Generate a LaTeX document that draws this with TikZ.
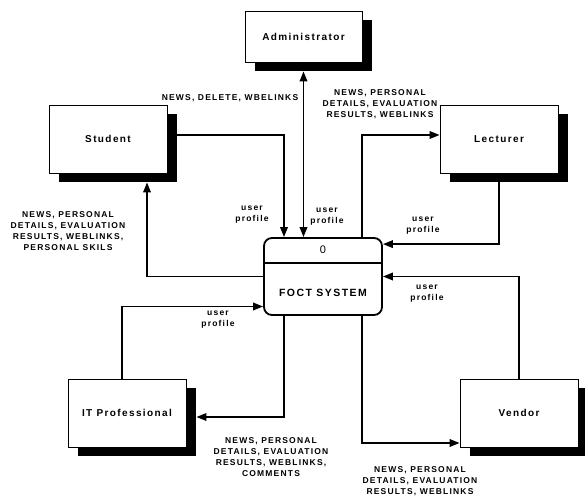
\documentclass[tikz,border=0pt]{standalone}
\usepackage{fontspec}
\setmainfont{Liberation Sans}
\newfontfamily\dfdfont[LetterSpace=14]{Liberation Sans}
\usetikzlibrary{arrows.meta,shadows}

\begin{document}
\begin{tikzpicture}[x=1pt,y=-1pt,
  entity/.style={draw, line width=0.8pt, fill=white, minimum width=118pt, minimum height=68pt,
    font=\dfdfont\bfseries\fontsize{10}{12}\selectfont,
    drop shadow={shadow xshift=10pt, shadow yshift=-9pt, fill=black, opacity=1}},
  process/.style={draw, line width=1.8pt, rounded corners=8pt, fill=white, minimum width=118pt, minimum height=77pt},
  flow/.style={line width=1.8pt, -{Triangle[length=10pt,width=7.5pt]}},
  flowlabel/.style={align=center, font=\dfdfont\bfseries\fontsize{8.5}{11}\selectfont}]
  \useasboundingbox (0,0) rectangle (585,500);

  % --------------------
  % External entities
  % --------------------
  \node[entity, minimum width=117pt, minimum height=51pt] (admin) at (303.5,36.5) {Administrator};
  \node[entity] (student) at (108,139) {Student};
  \node[entity] (lecturer) at (499,139) {Lecturer};
  \node[entity] (itpro) at (127,413) {IT Professional};
  \node[entity] (vendor) at (519,413) {Vendor};

  % --------------------
  % Process box
  % --------------------
  \node[process] (foct) at (323,276.5) {};
  \coordinate (divider) at (323,263);
  \draw[line width=1.8pt] (foct.west |- divider) -- (foct.east |- divider);
  \node[font=\fontsize{11}{13}\selectfont] (foctid) at (323,250) {0};
  \node[font=\dfdfont\bfseries\fontsize{10.5}{12}\selectfont] (foctname) at (323,293) {FOCT SYSTEM};

  % --------------------
  % Data flows
  % --------------------
  \draw[line width=1.8pt, {Triangle[length=10pt,width=7.5pt]}-{Triangle[length=10pt,width=7.5pt]}]
    ([yshift=-9pt]admin.south) -- (admin.south |- foct.north);
  \draw[flow] ([yshift=4pt]student.east) -| ([xshift=-39pt]foct.north);
  \draw[flow] (foct.west) -| ([xshift=39pt,yshift=-9pt]student.south);
  \draw[flow] ([xshift=39pt]foct.north) |- ([yshift=4pt]lecturer.west);
  \draw[flow] (lecturer.south) |- ([yshift=-7pt]foct.north east);
  \draw[flow] (vendor.north) |- (foct.east);
  \draw[flow] ([xshift=39pt]foct.south) |- ([yshift=-30pt]vendor.west);
  \draw[flow] ([xshift=-5pt]itpro.north) |- ([yshift=-30pt]foct.west);
  \draw[flow] ([xshift=-39pt]foct.south) |- ([xshift=10pt,yshift=-4pt]itpro.east);

  % --------------------
  % Flow labels
  % --------------------
  \node[flowlabel] (lbladmin) at (230,98) {NEWS, DELETE, WBELINKS};
  \node[flowlabel] (lbltostudent) at (68,231) {NEWS, PERSONAL\\DETAILS, EVALUATION\\RESULTS, WEBLINKS,\\PERSONAL SKILS};
  \node[flowlabel] (lblstudent) at (252,215) {user\\profile};
  \node[flowlabel] (lbladminup) at (327,217) {user\\profile};
  \node[flowlabel] (lbltolecturer) at (380,104) {NEWS, PERSONAL\\DETAILS, EVALUATION\\RESULTS, WEBLINKS};
  \node[flowlabel] (lbllecturer) at (423,226) {user\\profile};
  \node[flowlabel] (lblvendor) at (427,294) {user\\profile};
  \node[flowlabel] (lbltovendor) at (420,481) {NEWS, PERSONAL\\DETAILS, EVALUATION\\RESULTS, WEBLINKS};
  \node[flowlabel] (lblitpro) at (218,320) {user\\profile};
  \node[flowlabel] (lbltoitpro) at (271,457) {NEWS, PERSONAL\\DETAILS, EVALUATION\\RESULTS, WEBLINKS,\\COMMENTS};

\end{tikzpicture}
\end{document}
